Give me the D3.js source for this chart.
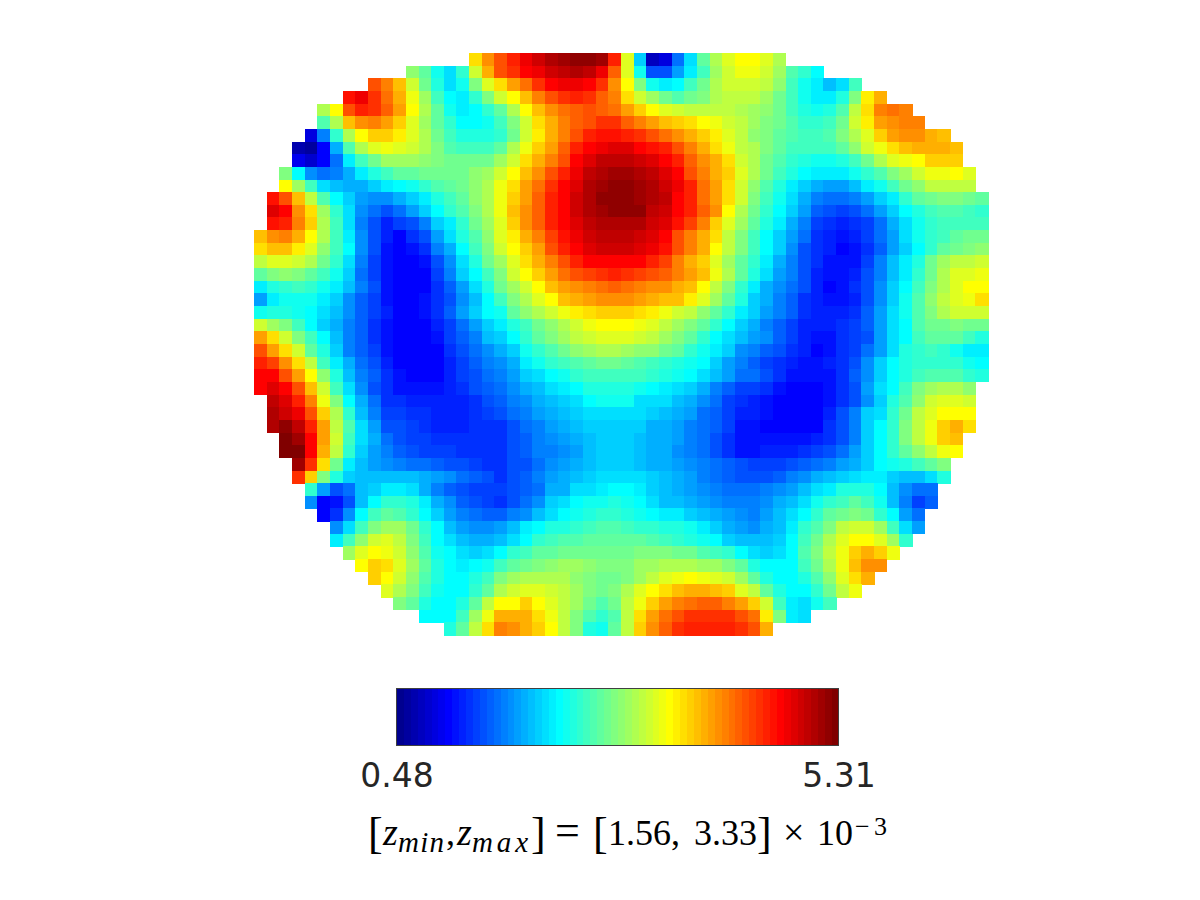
<!DOCTYPE html>
<html>
<head>
<meta charset="utf-8">
<script src="https://cdn.jsdelivr.net/npm/d3@7"></script>
<style>
  html, body { margin: 0; padding: 0; background: #fff; }
  svg { display: block; }
</style>
</head>
<body>
<div id="my_dataviz"></div>
<script>
// first column of each row of the disc
var rowStarts = [17,12,9,7,5,5,4,3,3,2,2,1,1,1,0,0,0,0,0,0,0,0,0,0,0,0,0,1,1,1,2,2,3,3,4,4,5,6,6,7,8,9,10,11,13,15];

// cell values as colour bar steps, 0 = 0.48 and 63 = 5.31
var cellLevels = [
[41,46,50,53,56,58,60,61,62,62,61,53,37,20,3,5,14,21,29,34,37,39,39,37,34],
[32,29,24,21,26,36,44,50,52,55,56,58,59,60,59,56,49,37,24,12,12,17,22,27,33,36,38,38,36,33,28,26,23],
[50,47,43,36,30,25,21,24,31,37,41,45,48,52,55,56,56,55,52,46,39,31,24,22,23,27,30,34,36,36,36,35,32,27,24,22,19,21,27],
[54,56,52,48,44,38,33,27,23,22,26,31,36,39,43,47,50,52,53,52,49,47,41,36,33,30,28,30,31,34,35,35,35,33,30,27,24,22,22,25,31,40,44],
[34,39,50,53,52,49,45,39,34,29,24,22,23,26,29,34,39,43,46,48,49,50,49,48,45,42,39,37,36,35,35,35,35,34,33,32,30,27,25,24,25,28,35,41,47,48,47],
[28,34,43,46,47,45,42,37,33,29,26,23,23,24,27,31,36,41,44,47,49,50,52,52,49,47,45,43,42,41,39,38,36,35,33,31,30,28,26,26,27,30,36,40,45,46,47,47],
[5,15,26,34,39,42,42,40,37,34,30,27,25,25,25,26,30,36,40,44,47,50,53,54,54,53,52,50,48,46,44,42,40,37,35,32,31,29,28,27,27,28,31,34,37,42,45,46,46,44,43],
[2,1,7,18,28,34,37,38,37,36,34,31,28,27,27,27,29,34,38,42,45,49,53,55,56,57,57,55,54,53,50,47,44,41,38,35,34,31,29,27,27,27,27,29,32,36,38,41,43,44,44,44,43],
[6,4,7,14,22,27,30,33,33,33,32,31,30,30,30,30,33,36,41,44,47,50,55,57,59,59,59,58,57,55,53,49,46,44,41,36,34,30,28,26,25,24,24,25,27,30,34,37,38,39,42,42,42],
[31,23,16,14,15,18,22,25,27,29,29,30,30,30,30,32,33,36,39,43,46,50,53,56,59,60,61,61,60,59,57,55,50,47,44,42,37,34,30,27,25,23,22,22,22,24,26,28,31,33,36,38,38,39,37],
[39,33,27,21,19,18,18,20,22,23,24,26,28,29,30,32,34,38,41,45,48,52,55,57,60,61,62,62,61,60,58,56,53,48,45,41,36,32,28,25,22,20,18,17,17,19,22,24,27,30,32,35,35,35,35],
[54,50,43,35,28,23,20,17,16,16,18,20,22,25,27,29,32,34,38,42,45,49,53,55,58,60,62,62,62,61,60,59,55,53,48,45,41,36,31,27,24,21,18,15,14,14,15,17,20,22,26,29,30,31,31,30,29],
[57,55,46,41,33,26,21,16,14,12,14,17,20,23,26,28,31,34,38,43,46,49,53,55,58,60,61,62,62,62,59,58,55,53,49,46,39,34,30,26,23,20,17,13,12,11,12,14,17,20,23,25,27,28,28,27,26],
[54,53,47,42,34,27,21,15,12,9,11,12,15,20,22,26,30,33,37,42,46,49,53,55,57,59,60,60,60,60,58,57,54,51,47,42,37,33,29,25,22,18,15,11,10,9,10,11,14,18,21,24,26,27,27,27,27],
[43,46,47,44,39,34,27,22,16,12,9,7,10,12,17,21,25,28,32,37,40,44,47,51,54,56,58,59,59,59,58,57,55,50,47,44,41,35,31,27,23,20,17,14,10,9,8,9,11,14,17,21,24,26,27,29,30,30],
[41,43,43,40,37,32,27,23,16,12,8,7,8,10,15,18,23,27,31,36,39,42,45,50,53,55,57,58,58,58,57,56,54,50,47,44,39,35,31,27,23,20,16,12,10,9,7,8,10,13,17,20,23,26,29,30,31,32],
[35,37,37,36,34,30,26,21,15,11,8,7,7,8,12,16,21,25,30,33,37,41,44,47,50,53,55,55,55,55,55,53,51,47,44,42,37,33,29,26,22,18,15,12,10,8,8,8,11,15,19,22,25,30,33,35,35,36],
[29,31,32,31,29,27,24,20,14,11,8,7,7,7,11,15,20,23,27,31,36,39,42,45,48,50,51,52,53,52,51,50,49,47,45,43,38,34,29,25,21,17,15,12,9,8,8,9,12,15,19,22,26,30,34,37,37,38],
[22,25,26,27,26,24,22,19,15,12,8,7,7,7,10,13,17,21,25,30,33,36,39,43,45,46,47,48,49,48,47,46,46,44,43,39,35,31,26,22,18,16,14,12,9,7,8,10,12,16,20,23,27,31,34,37,39,39],
[17,22,24,24,24,22,20,16,13,11,8,7,7,8,10,12,16,19,23,27,31,34,37,39,43,44,45,46,46,46,45,44,43,43,40,37,33,29,25,20,18,15,13,10,9,8,8,9,12,16,20,24,28,32,35,37,38,41],
[24,25,25,24,23,21,19,16,13,11,9,7,7,8,10,13,17,20,23,24,29,32,34,36,38,40,41,42,42,42,41,40,38,36,35,32,29,26,22,20,17,15,13,10,9,9,9,10,13,17,21,24,28,31,34,36,36,36],
[36,33,31,27,23,20,18,15,13,10,8,7,7,7,9,11,14,17,20,22,25,27,30,32,34,36,38,39,39,39,38,37,35,33,31,29,26,23,20,18,15,13,11,9,9,9,10,11,13,17,21,23,28,30,30,31,30,30],
[45,41,36,31,27,23,19,15,13,10,8,7,7,7,8,11,13,15,19,20,23,26,29,31,33,35,36,37,37,37,36,35,33,31,29,26,23,21,19,17,16,13,11,9,8,8,10,11,12,17,21,23,27,29,29,29,27,25],
[50,45,41,36,29,25,20,15,13,11,8,7,7,7,7,10,12,14,16,18,20,24,26,28,30,32,33,34,34,33,32,32,30,29,26,24,22,20,16,15,13,12,10,9,7,8,10,11,14,17,21,25,26,27,26,24,22,22],
[53,51,46,41,35,27,22,18,14,12,9,7,7,7,7,9,11,13,15,16,18,22,24,26,27,28,29,30,30,29,28,27,26,25,24,23,20,17,15,13,11,10,9,8,8,9,10,12,16,20,23,25,26,26,26,26,24,23],
[55,55,50,45,39,32,25,19,15,13,10,8,7,7,7,9,11,12,14,15,17,20,21,23,24,26,27,27,27,27,27,26,25,24,23,21,19,17,14,14,12,10,8,8,8,8,10,13,16,20,23,25,27,28,28,28,26,25],
[55,57,55,50,43,36,27,21,16,12,10,8,8,8,8,9,10,12,13,14,16,18,19,21,22,23,25,25,25,25,24,23,22,21,20,18,15,13,11,11,10,8,7,7,7,8,10,12,17,21,23,27,31,33,34,34,32],
[59,57,53,47,38,31,23,18,14,10,10,9,9,9,9,9,10,12,13,15,16,18,19,20,21,23,24,24,24,21,21,21,19,18,16,14,11,10,9,8,7,7,7,7,8,10,12,16,20,25,28,32,36,37,37,36],
[60,58,56,50,42,34,26,19,15,11,11,10,10,9,9,9,10,11,12,14,15,17,18,19,20,21,21,21,21,21,20,19,18,17,14,13,11,9,9,8,7,7,7,7,9,12,15,20,21,26,30,35,37,39,39,39],
[60,62,59,53,45,35,28,21,17,12,12,11,10,9,9,9,10,10,10,12,14,15,17,18,19,20,20,20,20,20,18,18,17,15,14,13,11,8,8,7,7,7,7,7,10,12,15,20,23,26,31,35,38,42,44,41],
[63,61,55,45,36,27,21,18,14,12,11,11,10,10,10,10,10,10,12,13,15,16,17,18,19,20,20,20,19,18,18,17,15,14,12,10,8,8,8,8,8,8,9,10,12,15,20,23,26,31,35,38,42,43],
[63,63,55,44,35,26,20,17,15,13,12,11,11,11,10,10,10,10,12,13,15,15,16,17,19,20,20,20,19,18,18,16,15,14,12,10,8,8,9,9,9,10,11,12,14,17,20,23,26,29,32,35,38,39],
[61,52,41,30,22,19,17,16,15,14,14,13,12,12,11,10,10,12,12,14,16,17,18,19,20,20,20,19,18,18,17,16,15,14,13,12,11,11,11,12,13,14,15,17,18,20,23,24,25,27,29,31],
[52,42,31,25,20,19,19,19,19,19,18,17,16,14,13,12,10,12,13,15,17,18,19,20,21,21,21,21,20,19,18,17,15,14,13,12,12,12,13,15,16,18,19,20,21,22,22,20,19,19,21,25],
[26,17,12,14,19,20,22,22,21,18,15,13,12,11,11,11,12,13,14,18,18,21,21,22,23,23,22,20,19,18,17,16,15,14,14,14,15,16,17,19,21,22,25,25,25,23,19,16,14,14],
[16,7,8,12,19,23,26,26,25,22,18,16,13,12,11,10,12,14,16,20,21,23,24,24,25,24,23,21,19,19,18,17,16,15,15,15,16,18,19,21,24,26,27,29,27,24,19,15,11,13],
[7,10,16,23,27,29,28,26,23,20,17,15,14,13,13,15,16,19,21,23,24,25,26,26,25,24,23,22,22,20,19,18,17,16,15,17,19,21,23,26,29,30,31,30,26,23,17,14],
[16,21,27,31,33,33,30,26,23,19,17,16,16,17,19,22,23,25,25,26,27,28,28,27,26,26,25,25,24,22,20,18,17,16,18,19,22,26,28,31,35,36,36,33,27,21,17],
[22,27,32,36,37,35,31,27,23,21,19,18,18,19,21,23,26,27,28,28,29,29,29,29,29,28,27,26,25,24,23,20,19,19,19,20,23,27,30,34,37,39,39,37,33,26],
[33,37,39,38,36,32,28,24,23,21,20,21,23,26,27,29,29,30,30,30,30,30,30,31,31,31,30,30,28,27,26,23,21,20,21,23,28,31,35,38,42,44,42,38],
[39,42,41,37,33,29,25,23,22,23,24,27,29,30,31,32,33,33,32,31,31,31,33,33,34,34,34,33,33,31,29,25,23,23,23,27,30,34,38,43,46,46],
[42,39,36,32,28,25,23,23,25,27,31,33,34,34,34,34,32,31,30,30,31,33,35,37,38,39,38,37,36,33,29,25,23,23,25,28,32,37,41,44],
[37,34,31,27,24,23,23,26,29,34,36,37,37,36,35,33,31,30,31,34,37,39,41,43,44,44,43,42,37,35,29,25,23,23,26,30,35,38],
[31,29,25,23,23,25,29,35,39,39,42,39,37,35,33,30,28,30,35,38,42,45,47,48,49,49,47,45,42,36,27,22,21,24,27],
[23,23,23,27,33,38,44,44,44,41,38,35,31,28,26,28,35,41,45,48,50,52,52,52,52,50,48,40,31,22,21],
[25,29,35,41,47,46,44,42,39,35,31,25,24,29,35,42,46,49,52,53,53,53,53,52,50,44]
];

var tickLabels = ["0.48", "5.31"];
var colorSteps = d3.range(64);

var width = 1200, height = 900;
var svg = d3.select("#my_dataviz")
    .append("svg")
    .attr("width", width)
    .attr("height", height);

var color = d3.scaleLinear()
    .domain([0, 7, 23, 39, 55, 63])
    .range(["#00008f", "#0000ff", "#00ffff", "#ffff00", "#ff0000", "#800000"]);

var x = d3.scaleBand().domain(d3.range(58)).range([254, 988]);
var y = d3.scaleBand().domain(d3.range(46)).range([53, 635]);

// flatten rows into cells
var cells = [];
cellLevels.forEach(function(row, r) {
    row.forEach(function(v, i) {
        cells.push({ row: r, col: rowStarts[r] + i, level: v });
    });
});

svg.append("g")
    .attr("shape-rendering", "crispEdges")
    .selectAll("rect")
    .data(cells)
    .enter()
    .append("rect")
        .attr("x", function(d) { return x(d.col); })
        .attr("y", function(d) { return y(d.row); })
        .attr("width", x.bandwidth() + 0.5)
        .attr("height", y.bandwidth() + 0.5)
        .attr("fill", function(d) { return color(d.level); });

// colour bar
var cx = d3.scaleBand().domain(colorSteps).range([397, 839]);
svg.append("g")
    .attr("shape-rendering", "crispEdges")
    .selectAll("rect")
    .data(colorSteps)
    .enter()
    .append("rect")
        .attr("x", function(d) { return cx(d); })
        .attr("y", 689)
        .attr("width", cx.bandwidth())
        .attr("height", 57)
        .attr("fill", function(d) { return color(d); });

svg.append("rect")
    .attr("x", 396.5).attr("y", 688.5)
    .attr("width", 442).attr("height", 57)
    .attr("fill", "none")
    .attr("stroke", "#404040")
    .attr("stroke-width", 1);

svg.selectAll(".tick-label")
    .data(tickLabels)
    .enter()
    .append("text")
        .attr("class", "tick-label")
        .attr("x", function(d, i) { return i == 0 ? 397 : 839; })
        .attr("y", 787)
        .attr("text-anchor", "middle")
        .attr("font-family", "DejaVu Sans")
        .attr("font-size", 33)
        .attr("fill", "#262626")
        .text(function(d) { return d; });

// the math label, placed piece by piece because the widths differ from TeX
function piece(txt, px, py, size, italic, len) {
    var t = svg.append("text")
        .attr("x", px)
        .attr("y", py)
        .attr("font-family", "Liberation Serif")
        .attr("font-size", size)
        .attr("font-style", italic ? "italic" : "normal")
        .attr("fill", "#000")
        .text(txt);
    if (len) t.attr("textLength", len).attr("lengthAdjust", "spacing");
}
piece("[", 368, 848, 44);
piece("z", 383, 845, 38, true);
piece("min", 398, 852, 29, true, 46);
piece(",", 446, 845, 36);
piece("z", 457, 845, 38, true);
piece("max", 472, 852, 29, true, 56);
piece("]", 531, 848, 44);
piece("=", 555, 845, 44);
piece("[", 593, 848, 44);
piece("1.56,", 608, 845, 36);
piece("3.33", 694, 845, 36);
piece("]", 757, 848, 44);
piece("×", 783, 845, 38);
piece("10", 817, 845, 36);
piece("−3", 855, 835, 26, false, 32);
</script>
</body>
</html>
